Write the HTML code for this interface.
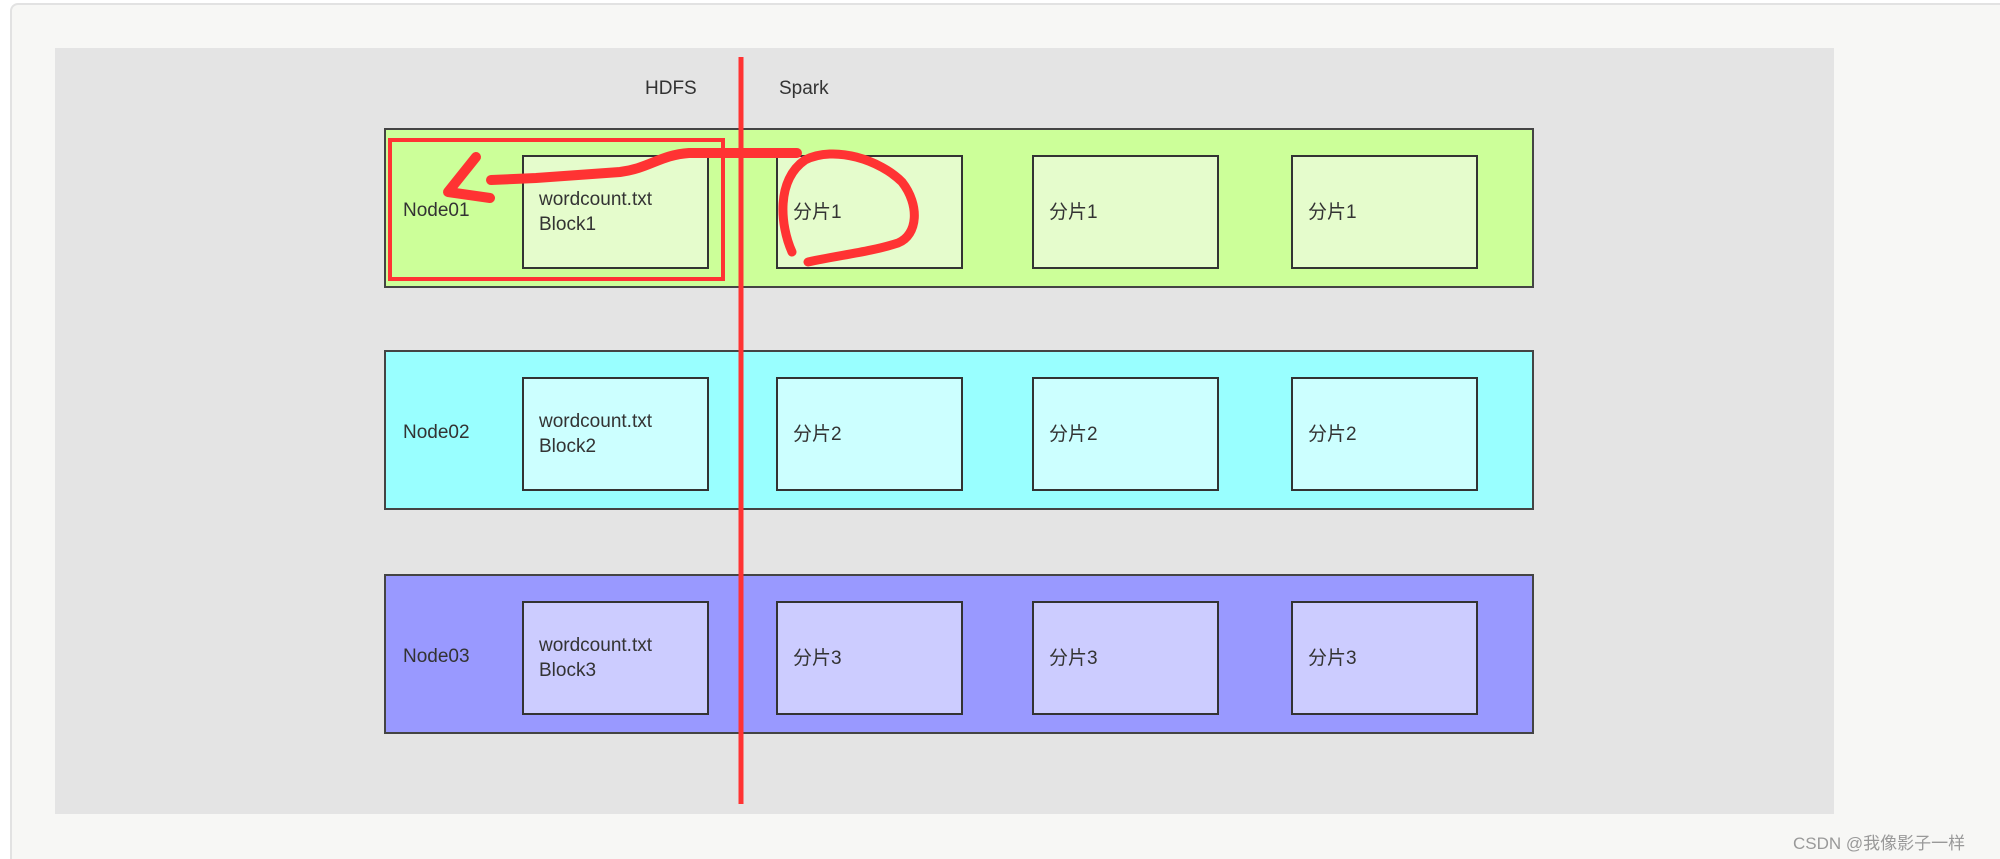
<!DOCTYPE html>
<html style="overflow:hidden;width:2000px;height:859px"><head><meta charset="utf-8"><style>
html,body{margin:0;padding:0;}
body{width:2000px;height:859px;background:#fff;position:relative;overflow:hidden;font-family:"Liberation Sans","Noto Sans CJK SC",sans-serif;}
.card{position:absolute;left:10px;top:3px;width:1990px;height:856px;background:#f7f7f5;border:2px solid #e2e2e2;border-right:none;border-bottom:none;border-radius:8px 0 0 0;box-sizing:border-box;}
.gray{position:absolute;left:55px;top:48px;width:1779px;height:766px;background:#e4e4e4;}
.row{position:absolute;left:384px;width:1150px;height:160px;border:2px solid #444;box-sizing:border-box;}
.box{position:absolute;top:25px;width:187px;height:114px;border:2px solid #333;box-sizing:border-box;}
.t{position:absolute;color:#333;font-size:19px;line-height:25px;}
</style></head><body>
<div class="card"></div>
<div class="gray"></div>
<div class="t" style="left:645px;top:76px">HDFS</div>
<div class="t" style="left:779px;top:76px">Spark</div>

<div class="row" style="top:128px;background:#ccff99">
 <div class="t" style="left:17px;top:68px">Node01</div>
 <div class="box" style="left:136px;background:#e5fccc"><div class="t" style="left:15px;top:30px">wordcount.txt<br>Block1</div></div>
 <div class="box" style="left:390px;background:#e5fccc"><div class="t" style="left:15px;top:43px">分片1</div></div>
 <div class="box" style="left:646px;background:#e5fccc"><div class="t" style="left:15px;top:43px">分片1</div></div>
 <div class="box" style="left:905px;background:#e5fccc"><div class="t" style="left:15px;top:43px">分片1</div></div>
</div>
<div class="row" style="top:350px;background:#99ffff">
 <div class="t" style="left:17px;top:68px">Node02</div>
 <div class="box" style="left:136px;background:#ccffff"><div class="t" style="left:15px;top:30px">wordcount.txt<br>Block2</div></div>
 <div class="box" style="left:390px;background:#ccffff"><div class="t" style="left:15px;top:43px">分片2</div></div>
 <div class="box" style="left:646px;background:#ccffff"><div class="t" style="left:15px;top:43px">分片2</div></div>
 <div class="box" style="left:905px;background:#ccffff"><div class="t" style="left:15px;top:43px">分片2</div></div>
</div>
<div class="row" style="top:574px;background:#9999ff">
 <div class="t" style="left:17px;top:68px">Node03</div>
 <div class="box" style="left:136px;background:#ccccff"><div class="t" style="left:15px;top:30px">wordcount.txt<br>Block3</div></div>
 <div class="box" style="left:390px;background:#ccccff"><div class="t" style="left:15px;top:43px">分片3</div></div>
 <div class="box" style="left:646px;background:#ccccff"><div class="t" style="left:15px;top:43px">分片3</div></div>
 <div class="box" style="left:905px;background:#ccccff"><div class="t" style="left:15px;top:43px">分片3</div></div>
</div>

<svg width="2000" height="859" style="position:absolute;left:0;top:0">
 <rect x="390" y="140" width="333" height="139" fill="none" stroke="#f33" stroke-width="4"/>
 <line x1="741" y1="57" x2="741" y2="804" stroke="#f33" stroke-width="5"/>
 <path d="M797 153 L689 153 C660 155 650 168 620 172 L536 178 L491 180" fill="none" stroke="#f33" stroke-width="10" stroke-linecap="round"/>
 <path d="M476 157 L448 192 L490 198" fill="none" stroke="#f33" stroke-width="10" stroke-linecap="round" stroke-linejoin="round"/>
 <path d="M792 252 C780 225 776 180 805 160 C835 145 880 160 902 182 C920 205 918 235 898 243 C870 252 840 255 808 262" fill="none" stroke="#f33" stroke-width="9" stroke-linecap="round"/>
</svg>
<div style="position:absolute;left:1793px;top:829px;font-size:17px;color:#999;">CSDN @我像影子一样</div>
</body></html>
